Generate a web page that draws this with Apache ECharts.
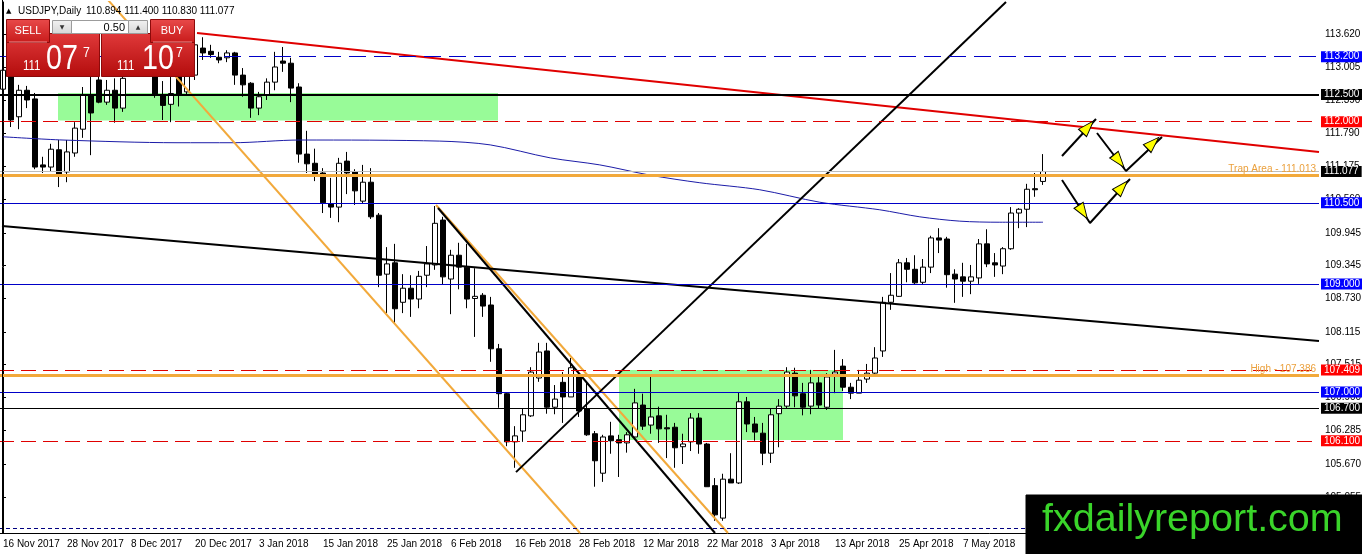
<!DOCTYPE html>
<html>
<head>
<meta charset="UTF-8">
<title>USDJPY,Daily</title>
<script src="https://cdn.jsdelivr.net/npm/echarts@6.0.0/dist/echarts.min.js"></script>
<style>
  html, body { margin: 0; padding: 0; background: #fff; }
  #chart { width: 1362px; height: 554px; }
</style>
</head>
<body>
<div id="chart"></div>
<script>
var FONT = 'Liberation Sans';

// bar slots on the time axis (131 bars + empty space on the right)
var slots = [];
for (var s = 0; s < 165; s++) slots.push(String(s));

// date labels, one every 8 bars
var tickDates = ['16 Nov 2017', '28 Nov 2017', '8 Dec 2017', '20 Dec 2017', '3 Jan 2018', '15 Jan 2018',
  '25 Jan 2018', '6 Feb 2018', '16 Feb 2018', '28 Feb 2018', '12 Mar 2018', '22 Mar 2018', '3 Apr 2018',
  '13 Apr 2018', '25 Apr 2018', '7 May 2018', '17 May 2018'];

// price scale labels on the right
var priceTicks = [113.620, 113.005, 112.390, 111.790, 111.175, 110.560, 109.945, 109.345,
  108.730, 108.115, 107.515, 106.900, 106.285, 105.670, 105.055];

// daily bars: open, close, low, high
var ohlc = [
  [112.60, 112.95, 112.45, 113.10], [112.95, 112.03, 111.90, 113.05], [112.09, 112.58, 111.86, 112.68],
  [112.58, 112.40, 112.25, 112.66], [112.42, 111.16, 111.12, 112.53], [111.20, 111.16, 111.05, 111.35],
  [111.16, 111.49, 111.07, 111.59], [111.48, 111.03, 110.79, 111.66], [111.07, 111.44, 110.88, 111.66],
  [111.42, 111.88, 111.35, 111.99], [111.86, 112.49, 111.70, 112.64], [112.49, 112.16, 111.38, 112.90],
  [112.77, 112.36, 112.34, 112.95], [112.36, 112.58, 112.31, 112.77], [112.58, 112.25, 111.98, 112.80],
  [112.25, 112.80, 112.18, 112.92], [112.95, 113.45, 112.90, 113.60], [113.45, 113.55, 113.25, 113.70],
  [113.55, 113.30, 113.10, 113.75], [113.35, 112.49, 112.44, 113.50], [112.50, 112.30, 112.03, 112.75],
  [112.32, 112.52, 111.99, 112.90], [112.95, 112.49, 112.28, 113.10], [112.55, 112.90, 112.49, 113.05],
  [112.86, 113.42, 112.77, 113.64], [113.36, 113.27, 113.14, 113.56], [113.30, 113.24, 113.18, 113.42],
  [113.19, 113.14, 113.08, 113.29], [113.18, 113.27, 113.10, 113.32], [113.27, 112.86, 112.68, 113.29],
  [112.86, 112.68, 112.46, 112.99], [112.71, 112.25, 112.07, 112.73], [112.25, 112.46, 112.12, 112.55],
  [112.49, 112.73, 112.40, 112.80], [112.73, 113.01, 112.58, 113.29], [113.12, 113.08, 112.92, 113.38],
  [113.08, 112.62, 112.36, 113.18], [112.64, 111.40, 111.24, 112.71], [111.40, 111.22, 111.05, 111.83],
  [111.23, 111.03, 110.90, 111.50], [111.05, 110.50, 110.31, 111.14], [110.48, 110.42, 110.22, 110.96],
  [110.42, 111.23, 110.14, 111.33], [111.27, 111.05, 110.66, 111.44], [111.07, 110.72, 110.46, 111.12],
  [110.53, 110.88, 110.48, 111.20], [110.88, 110.24, 110.20, 111.14], [110.27, 109.16, 108.94, 110.31],
  [109.18, 109.37, 108.46, 109.68], [109.39, 108.54, 108.28, 109.74], [108.66, 108.92, 108.46, 109.18],
  [108.92, 108.72, 108.39, 109.16], [108.72, 109.14, 108.55, 109.24], [109.16, 109.37, 108.94, 109.70],
  [109.35, 110.12, 109.26, 110.44], [110.18, 109.13, 108.98, 110.24], [109.09, 109.53, 108.44, 109.63],
  [109.53, 109.31, 108.90, 109.76], [109.31, 108.72, 108.55, 109.74], [108.73, 108.77, 108.02, 109.29],
  [108.79, 108.59, 108.39, 108.83], [108.61, 107.80, 107.56, 108.76], [107.80, 106.97, 106.71, 107.89],
  [106.97, 106.08, 106.00, 106.99], [106.08, 106.19, 105.60, 106.37], [106.28, 106.58, 106.08, 106.69],
  [106.56, 107.37, 106.54, 107.46], [107.26, 107.74, 107.19, 107.91], [107.76, 106.72, 106.60, 107.91],
  [106.72, 106.87, 106.59, 107.13], [107.18, 106.91, 106.43, 107.37], [106.91, 107.45, 106.91, 107.63],
  [107.28, 106.65, 106.54, 107.35], [106.69, 106.21, 106.19, 107.17], [106.23, 105.73, 105.25, 106.28],
  [105.50, 106.17, 105.34, 106.21], [106.19, 106.10, 105.86, 106.45], [106.12, 106.06, 105.43, 106.21],
  [106.06, 106.21, 105.88, 106.26], [106.17, 106.80, 106.13, 107.06], [106.76, 106.37, 106.30, 106.97],
  [106.39, 106.54, 106.23, 107.28], [106.56, 106.32, 106.06, 106.73], [106.34, 106.32, 105.78, 106.58],
  [106.35, 105.97, 105.60, 106.43], [105.99, 106.04, 105.67, 106.23], [106.08, 106.52, 105.91, 106.61],
  [106.52, 106.04, 105.86, 106.61], [106.04, 105.25, 105.25, 106.06], [105.27, 104.73, 104.62, 105.41],
  [104.67, 105.39, 104.62, 105.49], [105.39, 105.32, 105.32, 105.87], [105.32, 106.82, 105.30, 106.99],
  [106.82, 106.41, 106.26, 106.91], [106.41, 106.26, 106.10, 106.54], [106.24, 105.87, 105.65, 106.43],
  [105.87, 106.58, 105.69, 106.69], [106.60, 106.74, 105.98, 106.87], [106.74, 107.37, 106.69, 107.46],
  [107.35, 106.93, 106.72, 107.45], [106.97, 106.72, 106.57, 107.17], [106.74, 107.17, 106.59, 107.41],
  [107.17, 106.76, 106.69, 107.30], [106.72, 107.28, 106.67, 107.35], [107.33, 107.37, 106.98, 107.78],
  [107.48, 107.09, 107.02, 107.61], [107.09, 106.98, 106.87, 107.17], [106.98, 107.22, 106.98, 107.41],
  [107.24, 107.35, 107.17, 107.52], [107.35, 107.63, 107.32, 107.83], [107.76, 108.66, 107.65, 108.76],
  [108.66, 108.79, 108.52, 109.20], [108.77, 109.39, 108.76, 109.46], [109.39, 109.27, 109.03, 109.48],
  [109.27, 109.02, 108.98, 109.53], [109.03, 109.31, 108.99, 109.46], [109.31, 109.85, 109.20, 109.89],
  [109.85, 109.81, 109.57, 110.03], [109.83, 109.17, 108.93, 109.87], [109.18, 109.09, 108.65, 109.27],
  [109.13, 109.05, 108.76, 109.39], [109.05, 109.13, 108.81, 109.35], [109.11, 109.74, 109.00, 109.83],
  [109.74, 109.37, 109.31, 110.01], [109.39, 109.35, 109.13, 109.57], [109.33, 109.65, 109.18, 109.68],
  [109.65, 110.31, 109.63, 110.42], [110.31, 110.38, 110.03, 110.40], [110.38, 110.75, 110.05, 110.85],
  [110.76, 110.74, 110.61, 111.05], [110.894, 111.077, 110.830, 111.400]
];

// moving average [bar, price]
var maLine = [[0, 111.72], [7.5, 111.66], [21.75, 111.61], [28.75, 111.61], [37.1, 111.66], [54.6, 111.64],
  [60.9, 111.57], [68.4, 111.33], [74.6, 111.20], [80.9, 111.01], [87.1, 110.87], [94.6, 110.74],
  [102.1, 110.51], [109.6, 110.37], [114.6, 110.24], [119.6, 110.16], [124.6, 110.14], [130, 110.14]];

// trend lines [bar, price] end points
var redLine = [[24.25, 113.638], [164.5, 111.44]];
var orangeA = [[13.125, 114.249], [72.125, 104.395]];
var orangeB = [[54.125, 110.459], [90.625, 104.395]];
var blackC = [[54.375, 110.403], [89.0, 104.395]];
var blackD = [[-0.125, 110.07], [164.5, 107.944]];
var blackE = [[64.125, 105.52], [125.375, 114.212]];

// projection arrows
var arrowPath1 = [[132.375, 111.365], [136.625, 112.049]];
var arrowPath2 = [[136.75, 111.79], [140.375, 111.087], [144.875, 111.716]];
var arrowPath3 = [[132.375, 110.921], [135.875, 110.126], [140.875, 110.939]];
var arrowHeads = [[135.625, 111.901], [139.5, 111.272], [143.75, 111.605], [135.0, 110.329], [139.875, 110.791]];
var headTurn = [-42.6, -141.5, -45.8, -147, -42.3];

// green zones [bar from, top, bar to, bottom]
var zones = [[6.875, 112.53, 61.875, 112.02], [77, 107.41, 105, 106.114]];

// horizontal levels
var levelPrices = [113.2, 112.5, 112.0, 111.077, 111.0, 110.5, 109.0, 107.409, 107.307, 107.0, 106.7, 106.1, 104.487];
var levelNotes = ['', '', '', '', 'Trap Area - 111.013', '', '', '', 'High - 107.386', '', '', '', ''];

var BLUE = '#0000c8', RED = '#e00000', ORANGE = '#f2a93b';
var levelLook = [
  { c: BLUE, t: [17, 8], w: 1, box: '#0000ff' },
  { c: '#000', t: 'solid', w: 2, box: '#000' },
  { c: RED, t: [15, 7], w: 1, box: '#ff0000' },
  { c: '#bcbcbc', t: 'solid', w: 1, box: '#000' },
  { c: ORANGE, t: 'solid', w: 3, box: null },
  { c: BLUE, t: 'solid', w: 1, box: '#0000ff' },
  { c: BLUE, t: 'solid', w: 1, box: '#0000ff' },
  { c: RED, t: [15, 7], w: 1, box: '#ff0000' },
  { c: ORANGE, t: 'solid', w: 3, box: null },
  { c: BLUE, t: 'solid', w: 1, box: '#0000ff' },
  { c: '#000', t: 'solid', w: 1, box: '#000' },
  { c: RED, t: [15, 7], w: 1, box: '#ff0000' },
  { c: '#000080', t: [4, 3], w: 1, box: null }
];

var levelData = levelPrices.map(function (p, i) {
  var look = levelLook[i];
  var label;
  if (look.box) {
    label = { show: true, position: 'end', distance: 2, formatter: p.toFixed(3), color: '#fff',
      backgroundColor: look.box, padding: [1, 3, 0, 3], fontSize: 10, fontFamily: FONT };
  } else if (levelNotes[i]) {
    label = { show: true, position: 'insideEndTop', distance: 1, formatter: levelNotes[i], color: '#eba03c',
      fontSize: 10, fontFamily: FONT, padding: [0, 2, 0, 0] };
  } else {
    label = { show: false };
  }
  return { yAxis: p, lineStyle: { color: look.c, type: look.t, width: look.w }, label: label };
});

function overlay(pts, color, width, extra) {
  var o = { type: 'line', xAxisIndex: 1, yAxisIndex: 0, data: pts, symbol: 'none', silent: true,
    lineStyle: { color: color, width: width }, z: 4 };
  for (var k in extra) o[k] = extra[k];
  return o;
}

var chart = echarts.init(document.getElementById('chart'), null, { renderer: 'canvas' });

var red = new echarts.graphic.LinearGradient(0, 0, 0, 1, [
  { offset: 0, color: '#e0393a' }, { offset: 1, color: '#b30c0c' }]);
var redBtn = new echarts.graphic.LinearGradient(0, 0, 0, 1, [
  { offset: 0, color: '#e84a4a' }, { offset: 1, color: '#c81a1a' }]);
var grey = new echarts.graphic.LinearGradient(0, 0, 0, 1, [
  { offset: 0, color: '#f2f2f2' }, { offset: 1, color: '#d6d6d6' }]);

function txt(x, y, text, size, color, align, extra) {
  var e = { type: 'text', z: 101, silent: true, x: x, y: y,
    style: { text: text, fill: color, font: size + 'px "' + FONT + '"', textAlign: align || 'left',
      align: align || 'left', textVerticalAlign: 'middle', verticalAlign: 'middle' } };
  for (var k in extra) e[k] = extra[k];
  return e;
}
function box(x, y, w, h, fill, stroke) {
  return { type: 'rect', z: 100, silent: true, shape: { x: x, y: y, width: w, height: h },
    style: { fill: fill, stroke: stroke, lineWidth: 1 } };
}

var option = {
  animation: false,
  backgroundColor: '#fff',
  grid: { left: -1, right: 43, top: 2, bottom: 21, containLabel: false, outerBoundsMode: 'none' },
  xAxis: [{
    type: 'category', data: slots, boundaryGap: true,
    axisLine: { lineStyle: { color: '#000', width: 1 } },
    axisTick: { interval: 7, alignWithLabel: true, length: 4, lineStyle: { color: '#000' } },
    axisLabel: { interval: 7, align: 'left', margin: 6, color: '#000', fontSize: 10, fontFamily: FONT,
      formatter: function (v, i) { return tickDates[i / 8] || ''; } },
    splitLine: { show: false }
  }, {
    type: 'value', min: -0.5, max: 164.5, show: false
  }],
  yAxis: {
    type: 'value', position: 'right', min: 104.3946, max: 114.2116,
    axisLine: { show: true, lineStyle: { color: '#000' } },
    axisTick: { show: true, length: 3, customValues: priceTicks, lineStyle: { color: '#000' } },
    axisLabel: { customValues: priceTicks, margin: 6, color: '#000', fontSize: 10, fontFamily: FONT,
      formatter: function (v) { return v.toFixed(3); } },
    splitLine: { show: false }
  },
  series: [
    {
      type: 'line', xAxisIndex: 1, data: [], silent: true, z: 1,
      markArea: { silent: true, itemStyle: { color: '#98fb98' },
        data: zones.map(function (z) { return [{ coord: [z[0], z[1]] }, { coord: [z[2], z[3]] }]; }) }
    },
    {
      type: 'candlestick', data: ohlc, barWidth: 5, silent: true, z: 3,
      itemStyle: { color: '#fff', color0: '#000', borderColor: '#000', borderColor0: '#000',
        borderColorDoji: '#000', borderWidth: 1 }
    },
    overlay(maLine, '#1c1ca8', 1, { smooth: 0.3 }),
    overlay(redLine, RED, 2),
    overlay(orangeA, ORANGE, 2),
    overlay(orangeB, ORANGE, 2),
    overlay(blackC, '#000', 2),
    overlay(blackD, '#000', 2),
    overlay(blackE, '#000', 2),
    {
      type: 'line', xAxisIndex: 1, data: [], silent: true, clip: false, z: 5,
      markLine: { silent: true, symbol: ['none', 'none'], precision: 3, data: levelData }
    },
    overlay(arrowPath1, '#000', 2, { z: 6 }),
    overlay(arrowPath2, '#000', 2, { z: 6 }),
    overlay(arrowPath3, '#000', 2, { z: 6 }),
    {
      type: 'scatter', xAxisIndex: 1, silent: true, z: 7, symbol: 'triangle', symbolSize: [11, 16],
      itemStyle: { color: '#ffff00', borderColor: '#000', borderWidth: 1, opacity: 1 },
      data: arrowHeads.map(function (h, i) { return { value: h, symbolRotate: headTurn[i] }; })
    }
  ],
  graphic: [
    { type: 'line', z: 100, silent: true, shape: { x1: 2.5, y1: 0, x2: 2.5, y2: 533 }, style: { stroke: '#000', lineWidth: 1 } },
    // header
    txt(6, 11, '\u25B2', 7, '#000', 'left', { style: { text: '\u25B2', fill: '#000', font: '7px "DejaVu Sans"', verticalAlign: 'middle', textVerticalAlign: 'middle' } }),
    txt(18, 11, 'USDJPY,Daily', 10, '#000'),
    txt(86, 11, '110.894 111.400 110.830 111.077', 10, '#000'),
    // one-click trading panel
    box(6.5, 33.5, 93, 43, red, '#8c0a0a'),
    box(101.5, 33.5, 93, 43, red, '#8c0a0a'),
    box(6.5, 19.5, 43, 23, redBtn, '#8c0a0a'),
    box(150.5, 19.5, 44, 23, redBtn, '#8c0a0a'),
    box(52.5, 20.5, 19, 13, grey, '#9c9c9c'),
    box(71.5, 20.5, 57, 13, '#fff', '#9c9c9c'),
    box(128.5, 20.5, 19, 13, grey, '#9c9c9c'),
    { type: 'line', z: 101, silent: true, shape: { x1: 9, y1: 42, x2: 47, y2: 42 }, style: { stroke: '#f09090', lineWidth: 1 } },
    { type: 'line', z: 101, silent: true, shape: { x1: 153, y1: 42, x2: 192, y2: 42 }, style: { stroke: '#f09090', lineWidth: 1 } },
    txt(28, 31, 'SELL', 11, '#fff', 'center'),
    txt(172, 31, 'BUY', 11, '#fff', 'center'),
    txt(62, 27, '\u25BC', 6, '#333', 'center', { style: { text: '\u25BC', fill: '#333', font: '6px "DejaVu Sans"', align: 'center', textAlign: 'center', verticalAlign: 'middle', textVerticalAlign: 'middle' } }),
    txt(138, 27, '\u25B2', 6, '#333', 'center', { style: { text: '\u25B2', fill: '#333', font: '6px "DejaVu Sans"', align: 'center', textAlign: 'center', verticalAlign: 'middle', textVerticalAlign: 'middle' } }),
    txt(125, 27.5, '0.50', 11, '#000', 'right'),
    txt(23, 66, '111', 14, '#fff', 'left', { scaleX: 0.82 }),
    txt(46, 59, '07', 35, '#fff', 'left', { scaleX: 0.82 }),
    txt(83, 53, '7', 15, '#fff', 'left', { scaleX: 0.82 }),
    txt(117, 66, '111', 14, '#fff', 'left', { scaleX: 0.82 }),
    txt(142, 59, '10', 35, '#fff', 'left', { scaleX: 0.82 }),
    txt(176, 53, '7', 15, '#fff', 'left', { scaleX: 0.82 }),
    // watermark
    box(1026, 495, 336, 59, '#000', '#000'),
    txt(1042, 520, 'fxdailyreport.com', 39.5, '#3ad42a')
  ]
};

chart.setOption(option);
</script>
</body>
</html>
